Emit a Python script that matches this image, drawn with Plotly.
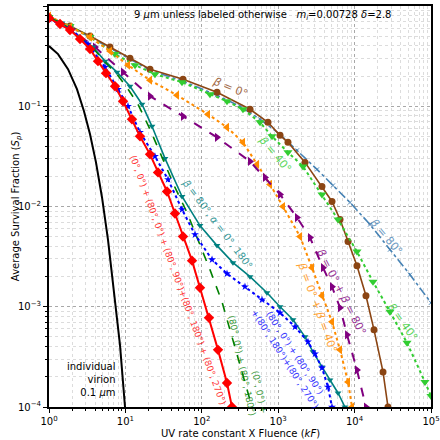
import numpy as np
import plotly.graph_objects as go

# ---- data (log10 of kF, log10 of survival fraction) ----
black_lk = [0, 0.118, 0.249, 0.366, 0.458, 0.537, 0.615, 0.694, 0.772, 0.851, 0.929, 0.995]
black_ls = [-0.40, -0.48, -0.63, -0.83, -1.05, -1.28, -1.56, -1.91, -2.33, -2.83, -3.38, -4.0]

red_lk = [0, 0.144, 0.275, 0.406, 0.537, 0.641, 0.746, 0.864, 0.969, 1.086, 1.191, 1.322, 1.427,
          1.545, 1.649, 1.754, 1.872, 1.976, 2.094, 2.212, 2.330, 2.395]
red_ls = [-0.12, -0.18, -0.24, -0.33, -0.43, -0.55, -0.67, -0.80, -0.95, -1.13, -1.30, -1.48, -1.66,
          -1.85, -2.07, -2.30, -2.54, -2.81, -3.11, -3.43, -3.76, -4.0]

teal_lk = [0, 0.170, 0.380, 0.576, 0.733, 0.890, 1.060, 1.217, 1.348, 1.518, 1.741, 1.976, 2.199,
           2.408, 2.631, 2.853, 3.024, 3.194, 3.351, 3.455, 3.573, 3.678, 3.783, 3.874]
teal_ls = [-0.12, -0.17, -0.30, -0.41, -0.55, -0.66, -0.80, -0.98, -1.20, -1.52, -1.90, -2.19, -2.39,
           -2.56, -2.70, -2.86, -3.00, -3.13, -3.30, -3.45, -3.60, -3.73, -3.86, -4.0]

green_lk = [0, 0.170, 0.380, 0.576, 0.733, 0.890, 1.034, 1.165, 1.322, 1.492, 1.649, 1.806, 1.976,
            2.107, 2.264, 2.408, 2.539, 2.657]
green_ls = [-0.12, -0.17, -0.30, -0.42, -0.56, -0.68, -0.83, -0.98, -1.23, -1.53, -1.81, -2.06, -2.38,
            -2.63, -2.95, -3.33, -3.68, -4.0]

blue_lk = [0, 0.144, 0.301, 0.510, 0.733, 0.903, 1.034, 1.191, 1.387, 1.558, 1.741, 1.911, 2.134,
           2.330, 2.565, 2.788, 3.024, 3.220, 3.390, 3.482, 3.573, 3.652, 3.704]
blue_ls = [-0.13, -0.18, -0.24, -0.38, -0.61, -0.83, -1.00, -1.26, -1.50, -1.73, -2.03, -2.28, -2.53,
           -2.67, -2.80, -2.93, -3.06, -3.20, -3.35, -3.47, -3.61, -3.80, -4.0]

purple_lk = [0, 0.275, 0.602, 0.969, 1.322, 1.754, 2.199, 2.631, 2.827, 3.024, 3.246, 3.416, 3.586,
             3.704, 3.809, 3.901, 4.031, 4.149]
purple_ls = [-0.12, -0.23, -0.41, -0.66, -0.90, -1.10, -1.31, -1.55, -1.71, -1.88, -2.11, -2.31, -2.61,
             -2.80, -3.01, -3.28, -3.63, -4.0]

orange_lk = [0, 0.275, 0.537, 0.798, 1.034, 1.322, 1.675, 2.081, 2.330, 2.539, 2.723, 2.893, 3.063,
             3.286, 3.442, 3.573, 3.704, 3.809, 3.914, 3.966]
orange_ls = [-0.10, -0.21, -0.31, -0.45, -0.59, -0.74, -0.89, -1.08, -1.21, -1.36, -1.58, -1.78, -2.00,
             -2.30, -2.61, -2.89, -3.15, -3.43, -3.75, -4.0]

lime_lk = [0, 0.275, 0.537, 0.864, 1.126, 1.387, 1.741, 2.107, 2.330, 2.539, 2.762, 2.919, 3.128,
           3.325, 3.573, 3.783, 4.031, 4.241, 4.463, 4.686, 4.921, 5.0]
lime_ls = [-0.11, -0.20, -0.31, -0.48, -0.59, -0.68, -0.76, -0.88, -0.95, -1.03, -1.16, -1.30, -1.46,
           -1.60, -1.88, -2.13, -2.45, -2.75, -3.05, -3.36, -3.75, -3.89]

brown_lk = [0, 0.275, 0.537, 0.798, 1.060, 1.322, 1.754, 2.199, 2.631, 2.866, 3.024, 3.128, 3.351,
            3.573, 3.704, 3.809, 3.914, 4.031, 4.149, 4.254, 4.372, 4.437]
brown_ls = [-0.11, -0.20, -0.30, -0.41, -0.52, -0.63, -0.73, -0.86, -1.03, -1.16, -1.29, -1.36, -1.56,
            -1.80, -1.95, -2.13, -2.35, -2.59, -2.89, -3.23, -3.65, -4.0]

steel_lk = [0, 0.275, 0.537, 0.798, 1.060, 1.322, 1.754, 2.199, 2.500, 2.762, 3.024, 3.246, 3.508,
            3.717, 3.940, 4.202, 4.463, 4.725, 5.0]
steel_ls = [-0.11, -0.21, -0.31, -0.42, -0.53, -0.64, -0.75, -0.89, -1.00, -1.13, -1.28, -1.44, -1.63,
            -1.79, -1.96, -2.18, -2.43, -2.68, -2.96]

x_tick_exp = [0, 1, 2, 3, 4, 5]
y_tick_exp = [-4, -3, -2, -1, 0]

FONT = "DejaVu Sans"


def p10(a):
    return 10 ** np.array(a, dtype=float)


series = [
    # name, lk, ls, color, dash, width, marker symbol, marker size
    ("black", black_lk, black_ls, "black", "solid", 2, None, 0),
    ("steel", steel_lk, steel_ls, "#4682B4", "dashdot", 1.6, "x-thin", 4),
    ("brown", brown_lk, brown_ls, "#8B4513", "solid", 1.6, "circle", 7),
    ("lime", lime_lk, lime_ls, "#32CD32", "dot", 2, "triangle-down", 8),
    ("orange", orange_lk, orange_ls, "#FF8C00", "dot", 2, "triangle-left", 8),
    ("purple", purple_lk, purple_ls, "#800080", "dash", 2, "triangle-right", 8),
    ("teal", teal_lk, teal_ls, "#008080", "solid", 1.6, "triangle-down", 6),
    ("green", green_lk, green_ls, "#008000", "dash", 1.6, None, 0),
    ("blue", blue_lk, blue_ls, "blue", "dot", 2, "star", 6),
    ("red", red_lk, red_ls, "red", "solid", 2, "diamond", 8),
]

fig = go.Figure()
for name, lk, ls, col, dash, w, sym, ms in series:
    kw = dict(x=p10(lk), y=p10(ls), line=dict(color=col, dash=dash, width=w), showlegend=False,
              hoverinfo="skip")
    if sym:
        kw["mode"] = "lines+markers"
        kw["marker"] = dict(symbol=sym, size=ms, color=col,
                            line=dict(width=1 if sym == "x-thin" else 0, color=col))
    else:
        kw["mode"] = "lines"
    fig.add_trace(go.Scatter(**kw))


def lab(text, lk, ls, col, ang, size=10, align="center", xanchor="center", op=0.8):
    fig.add_annotation(x=lk, y=ls, xref="x", yref="y", text=text, showarrow=False, textangle=ang,
                       font=dict(family=FONT, size=size, color=col), opacity=op, align=align,
                       xanchor=xanchor, yanchor="middle")


lab("<i>β</i> = 0°", 2.37, -0.81, "#8B4513", 22, 11)
lab("<i>β</i> = 40°", 2.96, -1.48, "#32CD32", 50, 11)
lab("<i>β</i> = 80°", 4.41, -2.30, "#4682B4", 50, 11)
lab("<i>β</i> = 40°", 4.62, -3.15, "#32CD32", 55, 11)
lab("<i>β</i> = 0° + <i>β</i> = 80°", 3.82, -2.85, "#800080", 63, 11)
lab("<i>β</i> = 0° + <i>β</i> = 40°", 3.51, -3.01, "#FF8C00", 70, 11)
lab("<i>β</i> = 80°, <i>α</i> = 0°, 180°", 2.20, -2.17, "#008080", 53, 10)
lab("(0°, 0°) + (80°, 0°) + (80°, 90°)+(80°, 180°) + (80°, 270°)", 1.69, -2.73, "red", 70, 9)
lab("(0°, 0°) +<br>(80°, 0°) + (80°, 180°)", 2.60, -3.58, "#008000", 78, 9, align="right")
lab("(80°, 0°) + (80°, 90°)<br>+(80°, 180°)+(80°, 270°)", 3.15, -3.49, "blue", 57, 9)
lab("individual<br>virion<br>0.1 <i>μ</i>m", 0.90, -3.73, "black", 0, 10, align="right",
    xanchor="right", op=1)

fig.add_annotation(x=0.56, y=1, xref="paper", yref="paper", yanchor="top", yshift=-1,
                   text="9 <i>μ</i>m unless labeled otherwise   <i>m<sub>i</sub></i>=0.00728 <i>δ</i>=2.8",
                   showarrow=False, font=dict(family=FONT, size=10, color="black"))
fig.add_annotation(x=0.5, y=-0.067, xref="paper", yref="paper", yanchor="middle",
                   text="UV rate constant X Fluence (<i>kF</i>)", showarrow=False,
                   font=dict(family=FONT, size=10, color="black"))
fig.add_annotation(x=-0.107, y=0.5, xref="paper", yref="paper", textangle=-90,
                   text="Average Survival Fraction (<i>S<sub>p</sub></i>)", showarrow=False,
                   font=dict(family=FONT, size=10, color="black"))

axis_common = dict(type="log", showline=True, linecolor="black", linewidth=2, mirror=True,
                   automargin=False,
                   ticks="outside", ticklen=4, tickcolor="black", showgrid=True,
                   gridcolor="#a8a8a8", griddash="dot", gridwidth=1, zeroline=False,
                   tickfont=dict(family=FONT, size=10, color="black"),
                   minor=dict(dtick="D1", ticks="outside", ticklen=2, tickcolor="black",
                              showgrid=True, gridcolor="#dcdcdc", griddash="dot", gridwidth=1))

fig.update_xaxes(range=[0, 5], tickvals=[10 ** e for e in x_tick_exp],
                 ticktext=[f"10<sup>{e}</sup>" for e in x_tick_exp], **axis_common)
fig.update_yaxes(range=[-4, 0], tickvals=[10.0 ** e for e in y_tick_exp],
                 ticktext=[f"10<sup>{'−' + str(-e) if e < 0 else e}</sup>" for e in y_tick_exp],
                 **axis_common)

fig.update_layout(width=440, height=440, margin=dict(l=49, r=9, t=6, b=33, autoexpand=False),
                  plot_bgcolor="white", paper_bgcolor="white",
                  font=dict(family=FONT, size=10, color="black"))

fig.write_html("out.html", config={"displayModeBar": False},
               post_script="document.body.style.margin='0px';")
